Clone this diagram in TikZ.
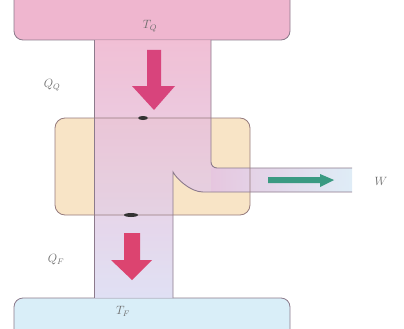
\documentclass[tikz,border=0pt]{standalone}
\usepackage{xcolor}
\definecolor{hotres}{HTML}{EFB6CF}
\definecolor{coldres}{HTML}{D9EEF8}
\definecolor{colbottom}{HTML}{DCDCF2}
\definecolor{colmid}{HTML}{E6C6E0}
\definecolor{boxfill}{HTML}{F8E4C6}
\definecolor{edge}{HTML}{8C7A8C}
\definecolor{hotarrow}{HTML}{D8447C}
\definecolor{coldarrow}{HTML}{DC4470}
\definecolor{workarrow}{HTML}{3A9A82}
\definecolor{labelgray}{HTML}{6A6A6A}
\tikzset{
  reservoir/.style={draw=edge, line width=0.8pt, rounded corners=9pt},
  flowedge/.style={draw=edge, line width=0.9pt},
  lbl/.style={text=labelgray, font=\fontsize{12}{14}\selectfont, inner sep=1pt},
}
\begin{document}
\begin{tikzpicture}[x=1pt,y=-1pt]
\useasboundingbox (0,0) rectangle (404,329);
% reservoirs
\path[reservoir, fill=hotres] (14,-15) rectangle (290,40);
\path[reservoir, fill=coldres] (14,298) rectangle (290,345);
\node[lbl] (TQ) at (150,26) {$T_Q$};
\node[lbl] (TF) at (123,311) {$T_F$};
% engine box
\path[fill=boxfill, rounded corners=10pt] (55,118) rectangle (250,215);
% column with work branch
\shade[top color=hotres, bottom color=colbottom, opacity=0.88]
  (94,40) -- (211,40) -- (211,162) to[out=-90,in=180] (217,168) -- (352,168)
  -- (352,192) -- (203,192) .. controls (190,192) and (176,178) .. (173,172)
  -- (173,298) -- (94,298) -- cycle;
\shade[left color=colmid, right color=coldres!85!white, opacity=0.9]
  (211,168.5) -- (352,168.5) -- (352,191.5) -- (211,191.5) -- cycle;
\draw[flowedge] (94,40) -- (94,298);
\draw[flowedge] (211,40) -- (211,162) to[out=-90,in=180] (217,168) -- (352,168);
\draw[flowedge] (352,192) -- (203,192) .. controls (190,192) and (176,178) .. (173,172) -- (173,298);
% box border on top
\draw[draw=edge!80!brown, line width=0.8pt, rounded corners=10pt] (55,118) rectangle (250,215);
\fill[black!80] (143,118) ellipse (5pt and 2pt);
\fill[black!80] (131,215) ellipse (7pt and 2pt);
% arrows
\fill[hotarrow] (147,50) -- (161,50) -- (161,86) -- (175,86) -- (154,110) -- (132,86) -- (147,86) -- cycle;
\fill[coldarrow] (124,233) -- (140,233) -- (140,260) -- (152,260) -- (132,280) -- (111,260) -- (124,260) -- cycle;
\fill[workarrow] (268,177) -- (320,177) -- (320,174) -- (334,180) -- (320,187) -- (320,183) -- (268,183) -- cycle;
% labels
\node[lbl] (QQ) at (52,85) {$Q_Q$};
\node[lbl] (QF) at (56,260) {$Q_F$};
\node[lbl] (W) at (381,181) {$W$};
\end{tikzpicture}
\end{document}
